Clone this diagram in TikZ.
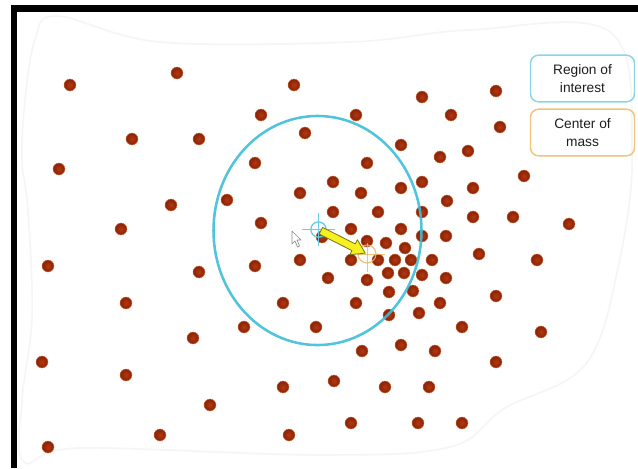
\documentclass[tikz,border=0pt]{standalone}
\usepackage{fontspec}
\setmainfont{Liberation Sans}
\usetikzlibrary{calc}
\definecolor{dotin}{HTML}{B03812}
\definecolor{dotout}{HTML}{8A2105}
\definecolor{dotrim}{HTML}{C4663A}
\definecolor{roiblue}{HTML}{3DBED8}
\definecolor{crossblue}{HTML}{6CCBE4}
\definecolor{boxblue}{HTML}{8AD5E8}
\definecolor{boxorange}{HTML}{F0C47C}
\definecolor{crossorange}{HTML}{EDB660}
\definecolor{arrowyellow}{HTML}{F6F01E}
\definecolor{arrowedge}{HTML}{7A7412}
\definecolor{txt}{HTML}{1E1E1E}
\tikzset{
  dot/.style={circle, minimum size=8.9pt, inner sep=0pt, shade, inner color=dotin, outer color=dotout, draw=dotrim, line width=0.35pt},
  legendbox/.style={draw, rounded corners=6pt, line width=1.1pt, minimum width=78pt, minimum height=35pt, align=center, font=\fontsize{10.3}{14}\selectfont, text=txt, inner sep=1pt},
  crossmark/.style={line width=0.7pt},
}
\begin{document}
\begin{tikzpicture}[x=0.75pt,y=-0.75pt]
\useasboundingbox (0,0) rectangle (638,468);
\fill[white] (0,0) rectangle (638,468);
% black frame
\fill[black] (11,5) rectangle (638,12);
\fill[black] (11,5) rectangle (17,468);
% faint background region
\draw[black!4, line width=1.2pt] plot[smooth cycle, tension=0.6] coordinates {(57,16) (160,42) (350,42) (470,30) (610,32) (632,150) (618,268) (585,365) (505,408) (450,447) (320,455) (80,448) (24,462) (22,400) (32,317) (28,210) (22,160) (25,100) (35,40)};
% dots
\foreach \x/\y [count=\i] in {
70/85, 177/73, 294/85, 261/115, 305/133, 132/139, 199/139, 59/169, 255/163, 300/193,
171/205, 227/200, 121/229, 261/223, 48/266, 199/272, 255/266, 300/260, 126/303, 283/303,
244/327, 316/327, 193/338, 42/362, 126/375, 283/387, 210/405, 160/435, 289/435, 48/447,
422/97, 496/91, 356/115, 451/115, 500/127, 401/145, 367/163, 440/157, 468/151, 524/176,
333/182, 361/193, 401/188, 422/182, 473/188, 447/201, 333/212, 378/212, 422/212, 473/217,
513/217, 569/224, 351/229, 401/229, 446/236, 422/236, 322/237, 367/241, 386/243, 405/248,
351/260, 378/260, 395/260, 411/260, 432/260, 479/254, 537/260, 328/278, 367/280, 388/273,
404/273, 422/275, 446/278, 389/292, 413/291, 356/303, 440/303, 496/296, 389/315, 419/313,
462/327, 541/332, 401/345, 362/351, 435/351, 496/362, 334/381, 385/387, 429/387, 351/423,
418/423, 462/423}
  \node[dot] (d\i) at (\x,\y) {};
% region of interest
\coordinate (roic) at (317.5,230.5);
\draw[roiblue, line width=1.9pt, opacity=0.9] (roic) ellipse [x radius=78pt, y radius=85.9pt];
% blue crosshair (start)
\node[circle, draw=crossblue, line width=1pt, minimum size=11.5pt, inner sep=0pt] (c1) at (318.5,229.5) {};
\draw[crossblue, crossmark] (302,229.5) -- (335,229.5);
\draw[crossblue, crossmark] (318.5,213) -- (318.5,246);
% orange crosshair (center of mass)
\node[circle, draw=crossorange, line width=0.9pt, minimum size=13.5pt, inner sep=0pt, opacity=0.85] (c2) at (367,254) {};
\draw[crossorange, crossmark, opacity=0.8] (357,254) -- (385,254);
\draw[crossorange, crossmark, opacity=0.8] (367,243) -- (367,272);
% yellow arrow from c1 to c2
\coordinate (at) at ($(c1.center)!2pt!(c2.center)$);
\coordinate (ah) at ($(c2.center)!1.5pt!(c1.center)$);
\coordinate (hb) at ($(ah)!9.75pt!(at)$);
\filldraw[fill=arrowyellow, draw=arrowedge, line width=0.6pt, line join=round]
  ($(at)!2.8pt!90:(ah)$) -- ($(hb)!2.8pt!-90:(at)$) -- ($(hb)!6.3pt!-90:(at)$) -- (ah)
  -- ($(hb)!6.3pt!90:(at)$) -- ($(hb)!2.8pt!90:(at)$) -- ($(at)!2.8pt!-90:(ah)$) -- cycle;
% mouse cursor
\filldraw[fill=white, draw=black!45, line width=0.5pt, line join=round] (292,231) -- (292,244) -- (295,241) -- (297.5,247) -- (299.5,246) -- (297,240) -- (301,240) -- cycle;
% legend
\node[legendbox, draw=boxblue] (roi) at (582.5,78.5) {Region of\\interest};
\node[legendbox, draw=boxorange] (com) at (582.5,132.5) {Center of\\mass};
\end{tikzpicture}
\end{document}
